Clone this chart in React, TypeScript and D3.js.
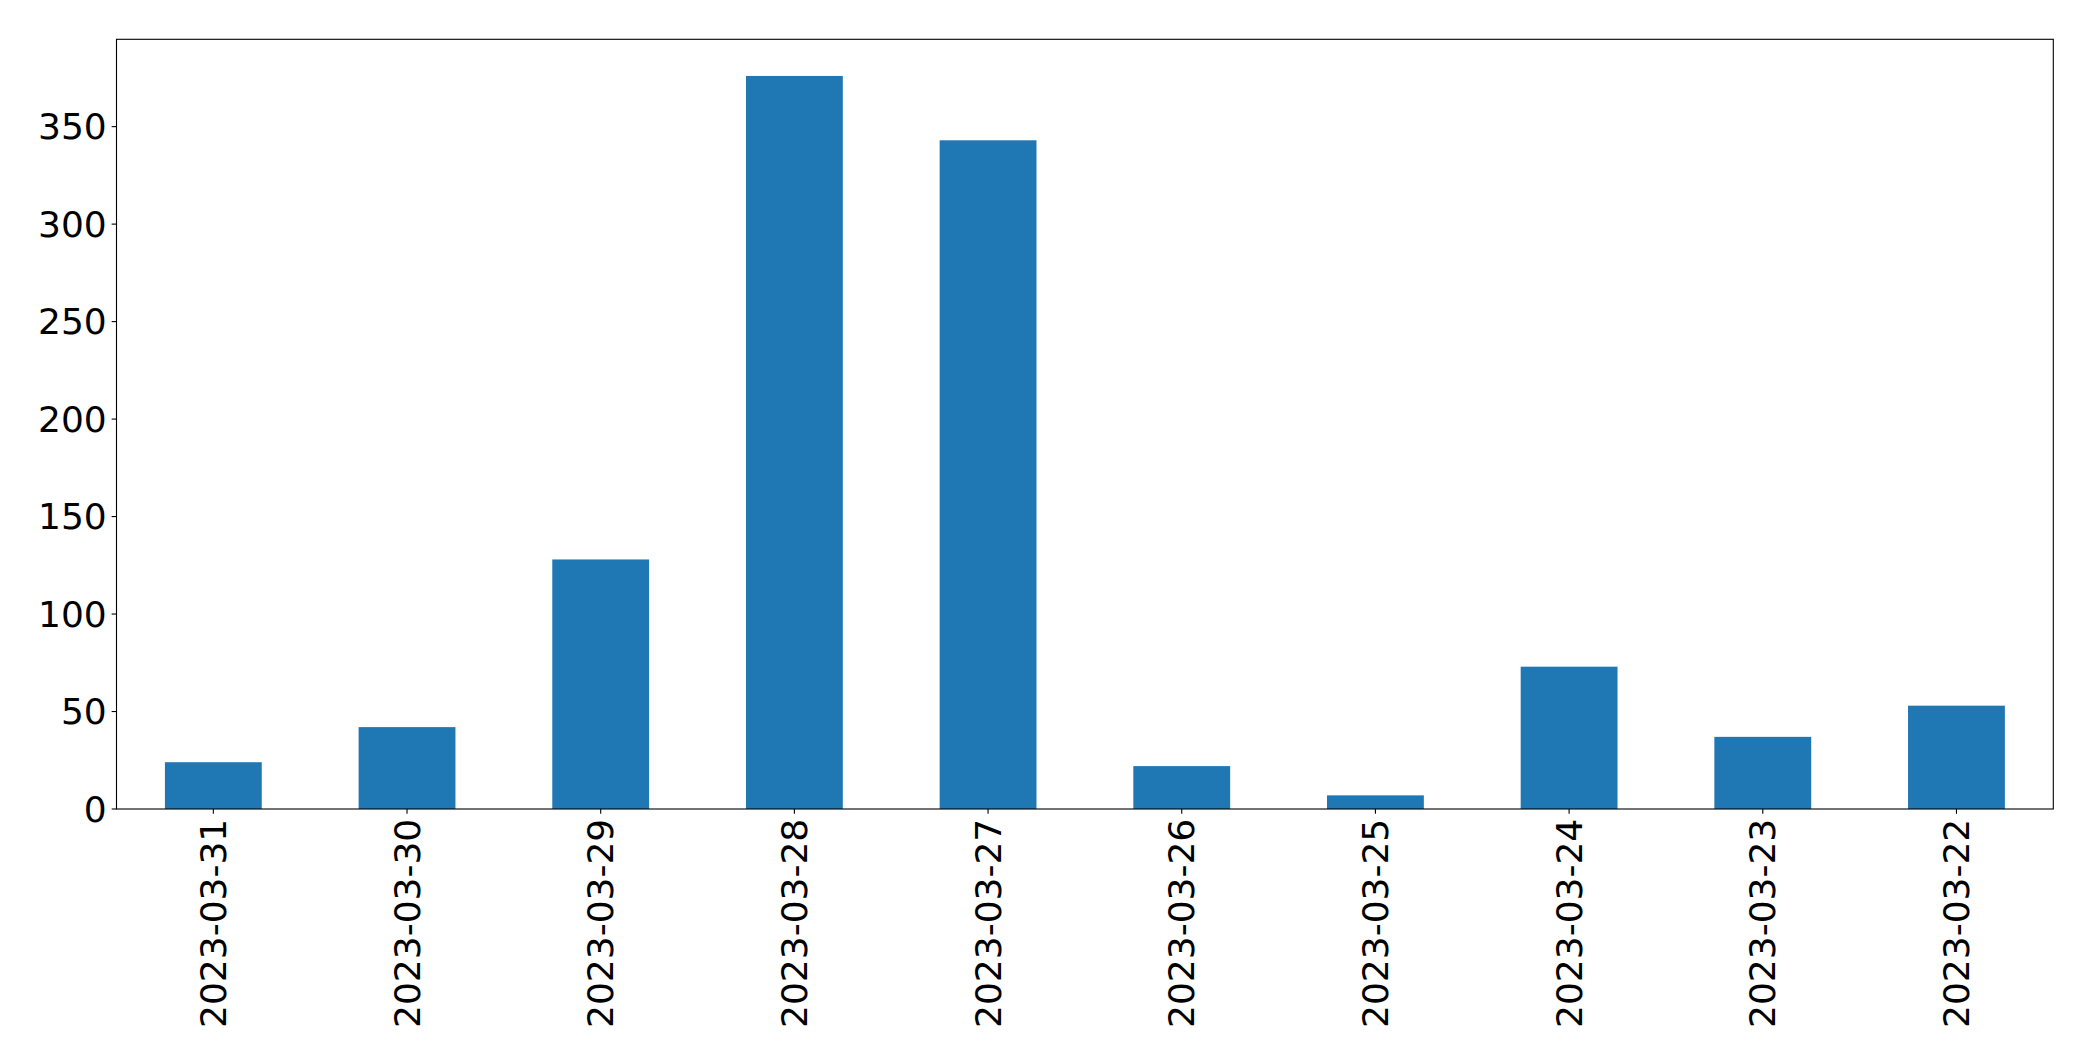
import React from "react";
import * as d3 from "d3";

const categories = ["2023-03-31", "2023-03-30", "2023-03-29", "2023-03-28", "2023-03-27", "2023-03-26", "2023-03-25", "2023-03-24", "2023-03-23", "2023-03-22"];
const values = [24, 42, 128, 376, 343, 22, 7, 73, 37, 53];
const yTicks = [0, 50, 100, 150, 200, 250, 300, 350];

const W = 2093;
const H = 1061;
const left = 116.5;
const right = 2053.3;
const top = 39.3;
const bottom = 809;

export default function App() {
  const x = d3.scaleBand<string>().domain(categories).range([left, right]).paddingInner(0.5).paddingOuter(0.25);
  const band = d3.scaleBand<string>().domain(categories).range([left, right]);
  const yMax = (d3.max(values) as number) * 1.05;
  const y = d3.scaleLinear().domain([0, yMax]).range([bottom, top]);
  const font = "'DejaVu Sans', sans-serif";
  const tickLen = 4.86;
  return (
    <svg width={W} height={H} style={{ position: "absolute", left: 0, top: 0, background: "#fff" }}>
      <rect x={0} y={0} width={W} height={H} fill="#fff" />
      {categories.map((c, i) => (
        <rect key={c} x={x(c)} y={y(values[i])} width={x.bandwidth()} height={bottom - y(values[i])} fill="#1f77b4" />
      ))}
      <rect x={left} y={top} width={right - left} height={bottom - top} fill="none" stroke="#000" strokeWidth={1.1} />
      {yTicks.map((t) => (
        <g key={t}>
          <line x1={left - tickLen} x2={left} y1={y(t)} y2={y(t)} stroke="#000" strokeWidth={1.1} />
          <text x={left - tickLen * 2} y={y(t)} textAnchor="end" dominantBaseline="central" fontFamily={font} fontSize={36} fill="#000">
            {t}
          </text>
        </g>
      ))}
      {categories.map((c) => {
        const cx = (band(c) as number) + band.bandwidth() / 2;
        return (
          <g key={c}>
            <line x1={cx} x2={cx} y1={bottom} y2={bottom + tickLen} stroke="#000" strokeWidth={1.1} />
            <text
              transform={`translate(${cx},${bottom + tickLen * 2}) rotate(-90)`}
              textAnchor="end"
              dominantBaseline="central"
              fontFamily={font}
              fontSize={36}
              fill="#000"
            >
              {c}
            </text>
          </g>
        );
      })}
    </svg>
  );
}
